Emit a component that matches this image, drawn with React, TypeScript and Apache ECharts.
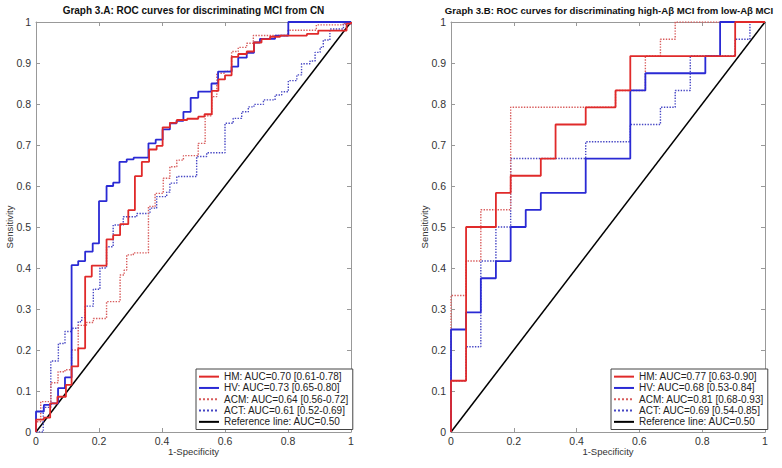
import React, { useEffect, useRef } from "react";
import * as echarts from "echarts";

// ---------- Data (FPR, TPR) points of ROC step curves ----------
// Panel A: MCI vs CN
const aHM = [[0,0],[0,0.03],[0.025,0.035],[0.045,0.07],[0.068,0.086],[0.095,0.115],[0.113,0.16],[0.134,0.204],[0.156,0.379],[0.177,0.406],[0.224,0.47],[0.245,0.48],[0.267,0.507],[0.293,0.541],[0.314,0.624],[0.336,0.659],[0.359,0.689],[0.383,0.698],[0.402,0.743],[0.425,0.754],[0.447,0.761],[0.48,0.764],[0.515,0.769],[0.535,0.775],[0.558,0.832],[0.579,0.86],[0.6,0.87],[0.621,0.915],[0.642,0.922],[0.669,0.928],[0.692,0.95],[0.716,0.958],[0.743,0.964],[0.775,0.967],[0.86,0.971],[0.896,0.979],[0.986,0.996],[1,1]];
const aHV = [[0,0],[0,0.05],[0.025,0.066],[0.047,0.07],[0.07,0.107],[0.092,0.133],[0.113,0.407],[0.134,0.417],[0.156,0.44],[0.18,0.46],[0.2,0.563],[0.224,0.6],[0.245,0.608],[0.265,0.659],[0.288,0.665],[0.31,0.669],[0.357,0.704],[0.38,0.713],[0.402,0.738],[0.425,0.753],[0.446,0.759],[0.468,0.781],[0.491,0.815],[0.515,0.83],[0.557,0.85],[0.578,0.879],[0.621,0.891],[0.642,0.913],[0.669,0.925],[0.692,0.95],[0.711,0.959],[0.759,0.967],[0.801,1],[1,1]];
const aACM = [[0,0],[0,0.025],[0.015,0.074],[0.047,0.12],[0.07,0.147],[0.092,0.152],[0.113,0.2],[0.134,0.26],[0.16,0.267],[0.182,0.277],[0.224,0.318],[0.267,0.383],[0.28,0.395],[0.288,0.432],[0.309,0.437],[0.357,0.55],[0.378,0.582],[0.404,0.619],[0.425,0.647],[0.447,0.663],[0.468,0.674],[0.515,0.704],[0.537,0.771],[0.558,0.818],[0.574,0.875],[0.6,0.88],[0.621,0.928],[0.642,0.938],[0.669,0.948],[0.69,0.967],[0.8,0.98],[0.89,0.993],[0.975,0.997],[1,1]];
const aACT = [[0,0],[0.023,0.06],[0.047,0.173],[0.071,0.216],[0.092,0.245],[0.113,0.253],[0.134,0.269],[0.145,0.279],[0.156,0.307],[0.182,0.348],[0.203,0.4],[0.224,0.452],[0.245,0.505],[0.277,0.525],[0.32,0.533],[0.362,0.546],[0.383,0.574],[0.415,0.585],[0.425,0.607],[0.447,0.623],[0.51,0.672],[0.542,0.681],[0.6,0.753],[0.626,0.765],[0.653,0.781],[0.674,0.793],[0.692,0.799],[0.722,0.81],[0.759,0.822],[0.78,0.83],[0.801,0.857],[0.828,0.871],[0.843,0.898],[0.87,0.905],[0.886,0.926],[0.902,0.938],[0.912,0.956],[0.933,0.983],[0.976,0.995],[1,1]];
// Panel B: high-Aβ MCI vs low-Aβ MCI
const bHM = [[0,0],[0,0.125],[0.048,0.5],[0.143,0.583],[0.19,0.625],[0.286,0.667],[0.333,0.75],[0.429,0.792],[0.524,0.833],[0.571,0.917],[0.905,1],[1,1]];
const bHV = [[0,0],[0,0.25],[0.048,0.292],[0.095,0.375],[0.143,0.417],[0.19,0.5],[0.238,0.542],[0.286,0.583],[0.429,0.667],[0.571,0.833],[0.619,0.875],[0.81,0.917],[0.857,1],[1,1]];
const bACM = [[0,0],[0,0.333],[0.048,0.417],[0.095,0.542],[0.19,0.792],[0.524,0.833],[0.619,0.917],[0.667,0.958],[0.714,1],[1,1]];
const bACT = [[0,0],[0,0.125],[0.048,0.208],[0.095,0.417],[0.143,0.5],[0.19,0.667],[0.429,0.708],[0.571,0.75],[0.667,0.792],[0.714,0.833],[0.762,0.917],[0.905,0.958],[0.952,1],[1,1]];
const refLine = [[0,0],[1,1]];

const aNames = ["HM: AUC=0.70 [0.61-0.78]", "HV: AUC=0.73 [0.65-0.80]", "ACM: AUC=0.64 [0.56-0.72]", "ACT: AUC=0.61 [0.52-0.69]", "Reference line: AUC=0.50"];
const bNames = ["HM: AUC=0.77 [0.63-0.90]", "HV: AUC=0.68 [0.53-0.84]", "ACM: AUC=0.81 [0.68-0.93]", "ACT: AUC=0.69 [0.54-0.85]", "Reference line: AUC=0.50"];
const titles = ["Graph 3.A: ROC curves for discriminating MCI from CN", "Graph 3.B: ROC curves for discriminating high-Aβ MCI from low-Aβ MCI"];
const xName = "1-Specificity";
const yName = "Sensitivity";

const FONT = "'Liberation Sans', Arial, sans-serif";
const RED = "#e02a2a";
const BLUE = "#2a2ad4";
const RED_DOT = "#d85c5c";
const BLUE_DOT = "#4646c4";

export default function App() {
  const ref = useRef<HTMLDivElement>(null);
  useEffect(() => {
    if (!ref.current) return;
    const chart = echarts.init(ref.current, undefined, { renderer: "svg" });
    const grids = [
      { left: 36, top: 22, width: 315, height: 410 },
      { left: 451, top: 22, width: 314, height: 410 },
    ];
    const axisCommon = {
      type: "value" as const,
      min: 0,
      max: 1,
      splitLine: { show: false },
      axisLine: { show: true, onZero: false, lineStyle: { color: "#999", width: 1 } },
      axisTick: { show: true, inside: true, length: 4, lineStyle: { color: "#999" } },
    };
    const xAxes: any[] = [];
    const yAxes: any[] = [];
    for (let g = 0; g < 2; g++) {
      xAxes.push({
        ...axisCommon, gridIndex: g, position: "bottom", interval: 0.2,
        name: xName, nameLocation: "middle", nameGap: 14, nameMoveOverlap: false,
        nameTextStyle: { fontSize: 9.5, fontFamily: FONT, color: "#333", verticalAlign: "top" },
        axisLabel: { fontSize: 10.5, fontFamily: FONT, color: "#333", margin: 3 },
      });
      yAxes.push({
        ...axisCommon, gridIndex: g, position: "left", interval: 0.1,
        name: yName, nameLocation: "middle", nameGap: 22, nameMoveOverlap: false,
        nameTextStyle: { fontSize: 9.5, fontFamily: FONT, color: "#333" },
        axisLabel: { fontSize: 10.5, fontFamily: FONT, color: "#333", margin: 5 },
      });
    }
    for (let g = 0; g < 2; g++) {
      xAxes.push({ ...axisCommon, gridIndex: g, position: "top", interval: 0.2, axisLabel: { show: false } });
      yAxes.push({ ...axisCommon, gridIndex: g, position: "right", interval: 0.1, axisLabel: { show: false } });
    }
    const mk = (name: string, data: number[][], g: number, color: string, type: string, width: number, step: boolean) => ({
      type: "line",
      name,
      data,
      xAxisIndex: g,
      yAxisIndex: g,
      step: step ? "end" : false,
      symbol: "none",
      showSymbol: false,
      silent: true,
      lineStyle: { color, type, width },
      itemStyle: { color },
    });
    const series = [
      mk(aNames[4], refLine, 0, "#000", "solid", 1.5, false),
      mk(aNames[3], aACT, 0, BLUE_DOT, "dotted", 1.4, true),
      mk(aNames[2], aACM, 0, RED_DOT, "dotted", 1.4, true),
      mk(aNames[1], aHV, 0, BLUE, "solid", 1.8, true),
      mk(aNames[0], aHM, 0, RED, "solid", 1.8, true),
      mk(bNames[4], refLine, 1, "#000", "solid", 1.5, false),
      mk(bNames[3], bACT, 1, BLUE_DOT, "dotted", 1.4, true),
      mk(bNames[2], bACM, 1, RED_DOT, "dotted", 1.4, true),
      mk(bNames[1], bHV, 1, BLUE, "solid", 1.8, true),
      mk(bNames[0], bHM, 1, RED, "solid", 1.8, true),
    ];
    const legendCommon = {
      orient: "vertical" as const,
      itemWidth: 20,
      itemHeight: 8,
      itemGap: 0,
      padding: [2, 4, 2, 2],
      backgroundColor: "#fff",
      borderColor: "#444",
      borderWidth: 1,
      borderRadius: 0,
      selectedMode: false,
      itemStyle: { color: "transparent", borderWidth: 0, opacity: 0 },
      textStyle: { fontSize: 10, fontFamily: FONT, color: "#222", lineHeight: 11.3 },
    };
    chart.setOption({
      animation: false,
      grid: grids,
      xAxis: xAxes,
      yAxis: yAxes,
      legend: [
        { ...legendCommon, left: 196, top: 369, data: aNames },
        { ...legendCommon, left: 611, top: 369, data: bNames },
      ],
      graphic: [
        { type: "text", x: 193.5, y: 10.5, style: { text: titles[0], textAlign: "center", textVerticalAlign: "middle", font: `bold 10px ${FONT}`, fill: "#111" } },
        { type: "text", x: 609, y: 10.5, style: { text: titles[1], textAlign: "center", textVerticalAlign: "middle", font: `bold 9.6px ${FONT}`, fill: "#111" } },
      ],
      series,
    });
    return () => chart.dispose();
  }, []);
  return <div ref={ref} style={{ position: "fixed", left: 0, top: 0, width: 782, height: 468, background: "#fff" }} />;
}
